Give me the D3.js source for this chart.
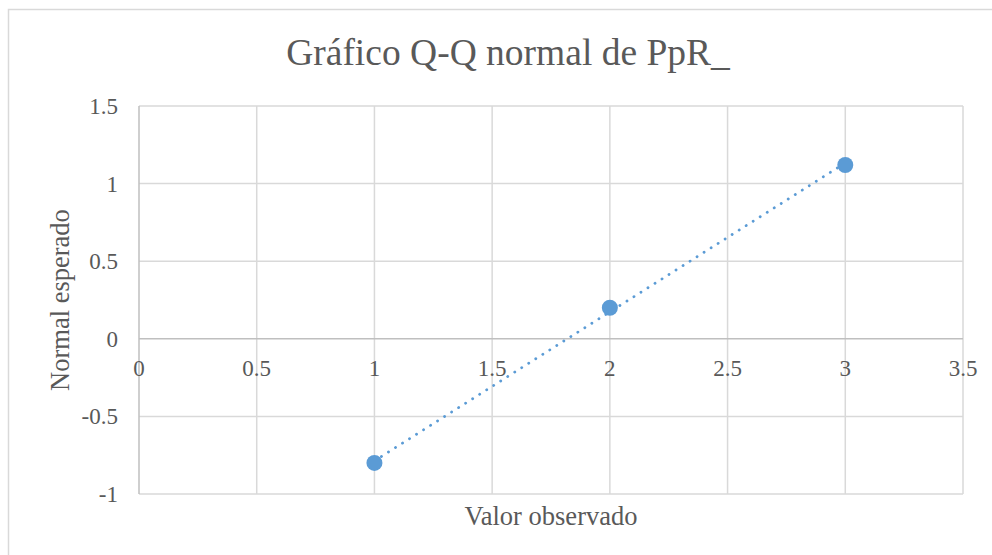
<!DOCTYPE html>
<html>
<head>
<meta charset="utf-8">
<script src="https://cdn.jsdelivr.net/npm/d3@7"></script>
<style>
  body { margin: 0; background: #fff; }
  svg text { font-family: 'Liberation Serif', 'Times New Roman', Tinos, 'DejaVu Serif', serif; fill: #595959; }
</style>
</head>
<body>
<script>
var svg_width  = 992;
var svg_height = 555;

// data
var observed = [1, 2, 3];
var expected = [-0.80, 0.20, 1.12];
var xTicks = [0, 0.5, 1, 1.5, 2, 2.5, 3, 3.5];
var yTicks = [-1, -0.5, 0, 0.5, 1, 1.5];

var chartTitle = "Gráfico Q-Q normal de PpR_";
var xTitle = "Valor observado";
var yTitle = "Normal esperado";

var svg = d3.select('body').append('svg')
            .attr('width', svg_width)
            .attr('height', svg_height);

// chart area border
svg.append("rect")
   .attr("x", 8.5).attr("y", 9.5)
   .attr("width", 1100).attr("height", 700)
   .attr("fill", "none")
   .attr("stroke", "#d9d9d9")
   .attr("stroke-width", 1.5);

var x = d3.scaleLinear().domain([0, 3.5]).range([139, 963]);
var y = d3.scaleLinear().domain([-1, 1.5]).range([494, 106]);

//grid lines
svg.append("g").selectAll("line")
   .data(xTicks.filter(d => d != 0))
   .enter().append("line")
   .attr("x1", d => x(d)).attr("x2", d => x(d))
   .attr("y1", y(1.5)).attr("y2", y(-1))
   .attr("stroke", "#d9d9d9").attr("stroke-width", 1.5);

svg.append("g").selectAll("line")
   .data(yTicks.filter(d => d != 0))
   .enter().append("line")
   .attr("x1", x(0)).attr("x2", x(3.5))
   .attr("y1", d => y(d)).attr("y2", d => y(d))
   .attr("stroke", "#d9d9d9").attr("stroke-width", 1.5);

// axis lines
svg.append("line")
   .attr("x1", x(0)).attr("x2", x(0))
   .attr("y1", y(1.5)).attr("y2", y(-1))
   .attr("stroke", "#bfbfbf").attr("stroke-width", 1.5);
svg.append("line")
   .attr("x1", x(0)).attr("x2", x(3.5))
   .attr("y1", y(0)).attr("y2", y(0))
   .attr("stroke", "#bfbfbf").attr("stroke-width", 1.5);

// tick labels
svg.append("g").selectAll("text")
   .data(xTicks)
   .enter().append("text")
   .attr("x", d => x(d))
   .attr("y", y(0) + 37)
   .attr("text-anchor", "middle")
   .attr("font-size", 23)
   .text(d => d);

svg.append("g").selectAll("text")
   .data(yTicks)
   .enter().append("text")
   .attr("x", 118)
   .attr("y", d => y(d) + 8)
   .attr("text-anchor", "end")
   .attr("font-size", 23)
   .text(d => d);

// trendline (least squares)
var n = observed.length;
var mx = d3.mean(observed), my = d3.mean(expected);
var sxy = 0, sxx = 0;
for (var i = 0; i < n; i++) {
    sxy += (observed[i] - mx) * (expected[i] - my);
    sxx += (observed[i] - mx) * (observed[i] - mx);
}
var slope = sxy / sxx;
var icpt = my - slope * mx;
var x0 = d3.min(observed), x1 = d3.max(observed);

svg.append("line")
   .attr("x1", x(x0)).attr("y1", y(icpt + slope * x0))
   .attr("x2", x(x1)).attr("y2", y(icpt + slope * x1))
   .attr("stroke", "#5b9bd5")
   .attr("stroke-width", 2.8)
   .attr("stroke-linecap", "round")
   .attr("stroke-dasharray", "0.1 8.2");

// points
svg.append("g").selectAll("circle")
   .data(observed)
   .enter().append("circle")
   .attr("cx", d => x(d))
   .attr("cy", (d, i) => y(expected[i]))
   .attr("r", 8)
   .attr("fill", "#5b9bd5");

// titles
svg.append("text")
   .attr("x", 508).attr("y", 65)
   .attr("text-anchor", "middle")
   .attr("font-size", 37.5)
   .text(chartTitle);

svg.append("text")
   .attr("x", 551).attr("y", 525)
   .attr("text-anchor", "middle")
   .attr("font-size", 26.5)
   .text(xTitle);

svg.append("text")
   .attr("transform", "translate(69,300) rotate(-90)")
   .attr("text-anchor", "middle")
   .attr("font-size", 26.5)
   .text(yTitle);
</script>
</body>
</html>
